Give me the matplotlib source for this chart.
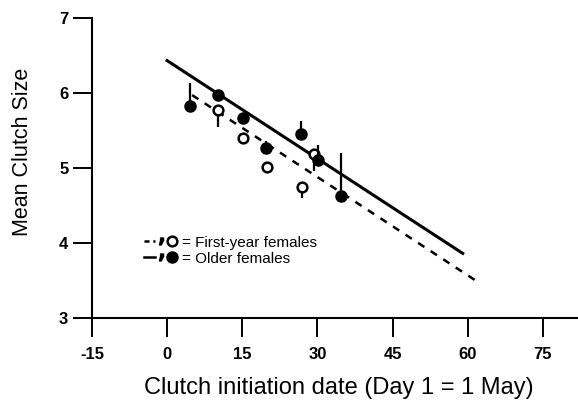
import matplotlib
matplotlib.use('Agg')
import matplotlib.pyplot as plt
from matplotlib.lines import Line2D
from matplotlib.legend_handler import HandlerTuple

plt.rcParams['font.family'] = ['Liberation Sans', 'DejaVu Sans']
plt.rcParams['axes.unicode_minus'] = False

# older females (filled), error bar drawn upward
old_x = [4.5, 10.2, 15.1, 19.7, 26.8, 30.1, 34.8]
old_y = [5.83, 5.97, 5.67, 5.26, 5.45, 5.11, 4.62]
old_up = [0.30, 0.05, 0.05, 0.10, 0.18, 0.20, 0.58]

# first-year females (open), error bar drawn downward
first_x = [10.2, 15.1, 19.9, 26.9, 29.4]
first_y = [5.77, 5.40, 5.01, 4.74, 5.18]
first_down = [0.22, 0.0, 0.0, 0.14, 0.22]

# regression lines
old_line_x = [0, 59]
old_line_y = [6.43, 3.86]
first_line_x = [5, 62]
first_line_y = [5.97, 3.48]

xticks = [-15, 0, 15, 30, 45, 60, 75]
yticks = [3, 4, 5, 6, 7]

fig = plt.figure(figsize=(5.78, 4.05), dpi=100)
ax = fig.add_axes([0.159, 0.215, 0.841, 0.741])

ax.plot(first_line_x, first_line_y, color='black', lw=1.8, linestyle=(0, (3, 3)), zorder=2)
ax.plot(old_line_x, old_line_y, color='black', lw=2.2, zorder=2)

ax.errorbar(first_x, first_y, yerr=[first_down, [0] * len(first_x)], fmt='o',
            mfc='white', mec='black', mew=1.8, ms=7, ecolor='black', elinewidth=1.6,
            capsize=0, zorder=3)
ax.errorbar(old_x, old_y, yerr=[[0] * len(old_x), old_up], fmt='o',
            mfc='black', mec='black', ms=8, ecolor='black', elinewidth=1.6,
            capsize=0, zorder=4)

ax.set_xlim(-15, 82)
ax.set_ylim(3, 7)
ax.set_xticks(xticks)
ax.set_yticks(yticks)
ax.tick_params(direction='out', length=13.5, width=1.4, labelsize=12)
ax.tick_params(axis='x', pad=7.5)
ax.tick_params(axis='y', pad=3.5)
for lab in ax.get_xticklabels() + ax.get_yticklabels():
    lab.set_fontweight('bold')
for s in ['top', 'right']:
    ax.spines[s].set_visible(False)
for s in ['left', 'bottom']:
    ax.spines[s].set_linewidth(1.5)

ax.set_ylabel('Mean Clutch Size', fontsize=15.5)
ax.yaxis.set_label_coords(-0.121, 0.552)
ax.set_xlabel('Clutch initiation date (Day 1 = 1 May)', fontsize=17)
ax.xaxis.set_label_coords(0.508, -0.198)

h1 = (Line2D([], [], color='black', lw=1.8, linestyle=(0, (2, 1.5))),
      Line2D([], [], color='black', marker='$,$', ms=5, linestyle='none'),
      Line2D([], [], marker='o', mfc='white', mec='black', mew=1.8, ms=7, linestyle='none'))
h2 = (Line2D([], [], color='black', lw=1.8),
      Line2D([], [], color='black', marker='$,$', ms=5, linestyle='none'),
      Line2D([], [], marker='o', color='black', ms=8, linestyle='none'))
ax.legend([h1, h2], ['= First-year females', '= Older females'],
          handler_map={tuple: HandlerTuple(ndivide=None, pad=0.0)},
          loc='upper left', bbox_to_anchor=(0.095, 0.295), frameon=False,
          fontsize=11, handlelength=2.2, handletextpad=0.3, labelspacing=0.15,
          borderaxespad=0)

fig.savefig('out.png', dpi=100)
